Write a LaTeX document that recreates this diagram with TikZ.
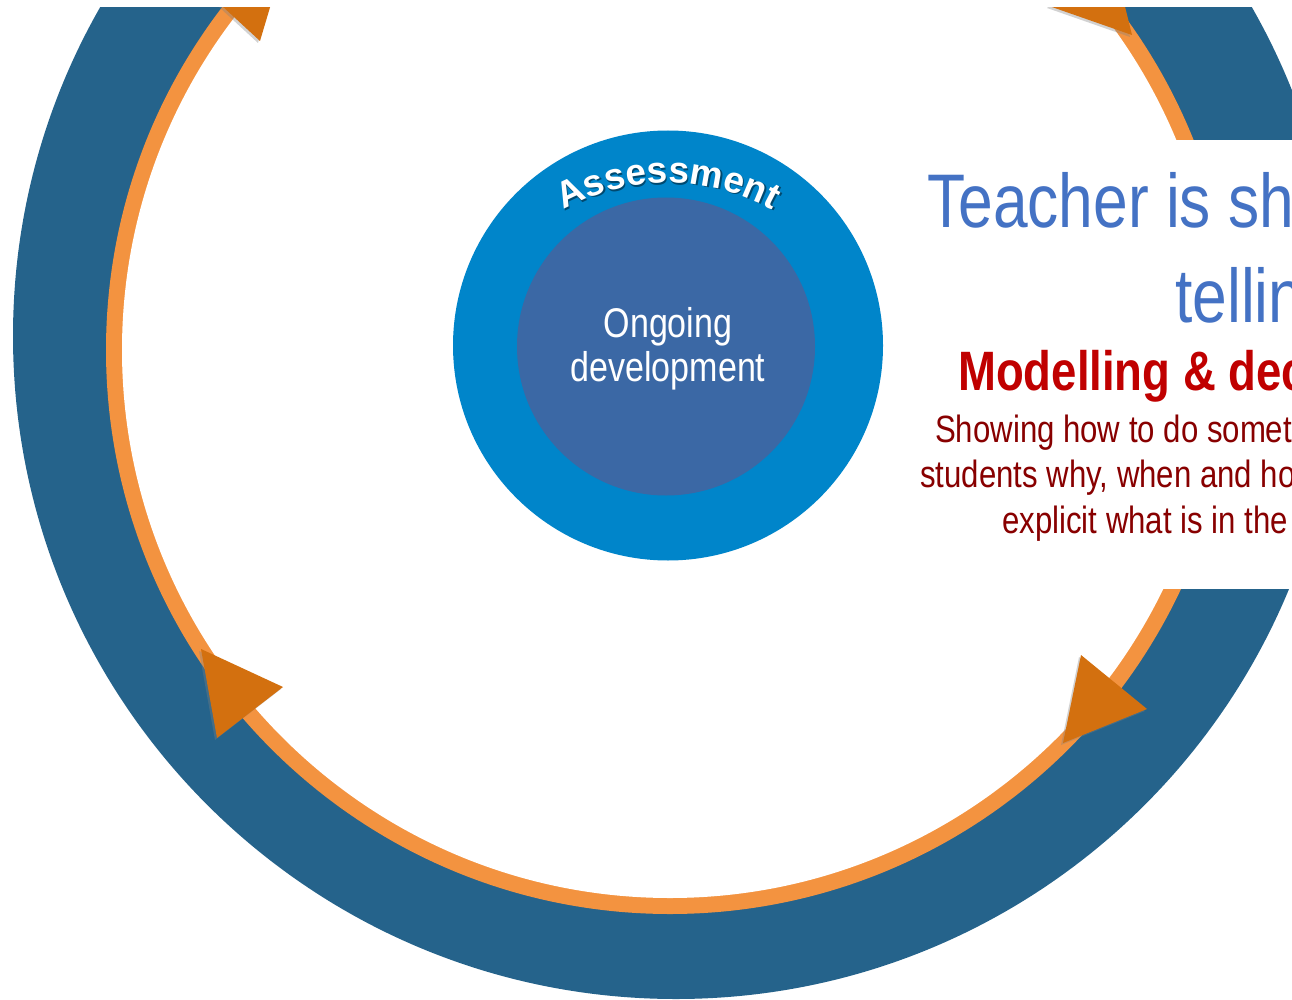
\documentclass[tikz,border=0pt]{standalone}
\usepackage{fontspec}
\setmainfont{Liberation Sans}[FakeStretch=0.82]
\newfontfamily\archfont{Liberation Sans}
\usetikzlibrary{decorations.text,shadows}

\definecolor{ringblue}{HTML}{25638B}
\definecolor{ringorange}{HTML}{F39340}
\definecolor{arroworange}{HTML}{D3700F}
\definecolor{assessblue}{HTML}{0085CA}
\definecolor{devblue}{HTML}{3B68A5}
\definecolor{teachblue}{HTML}{4472C4}
\definecolor{modelred}{HTML}{C00000}
\definecolor{showred}{HTML}{880000}

\newcommand\archstyle{\archfont\bfseries\fontsize{37}{40}\selectfont}

\begin{document}
\begin{tikzpicture}[x=1pt,y=1pt,
    arrowhead/.style={fill=arroworange,
      drop shadow={opacity=.35,shadow xshift=-2pt,shadow yshift=-2pt}},
    textline/.style={anchor=base west,inner sep=0}]
  \clip (0,0) rectangle (1292,-1000);
  % big ring with the orange track
  \fill[ringblue] (676,-336) circle (663);
  \fill[ringorange] (670,-350) circle (564);
  \fill[white] (670,-350) circle (548);
  % arrow heads on the track
  \fill[arrowhead] (195,19) -- (260,-41) -- (285,43) -- cycle;
  \fill[arrowhead] (1049,-6) -- (1132,-35) -- (1111,50) -- cycle;
  \fill[arrowhead] (201,-649) -- (283,-687) -- (217,-738) -- cycle;
  \fill[arrowhead] (1081,-655) -- (1147,-709) -- (1063,-743) -- cycle;
  % text box on the right
  \fill[white] (905,-140) rectangle (1292,-589);
  \node[textline,text=teachblue,font=\fontsize{76}{90}\selectfont]
    (teach) at (927,-228) {Teacher is sh};
  \node[textline,text=teachblue,font=\fontsize{76}{90}\selectfont]
    (tell) at (1175,-322) {tellin};
  \node[textline,text=modelred,font=\bfseries\fontsize{55.5}{60}\selectfont]
    (model) at (958,-390) {Modelling \& dec};
  \node[textline,text=showred,font=\fontsize{38}{45}\selectfont]
    (show1) at (935,-442) {Showing how to do somet};
  \node[textline,text=showred,font=\fontsize{38}{45}\selectfont]
    (show2) at (920,-487) {students why, when and ho};
  \node[textline,text=showred,font=\fontsize{38}{45}\selectfont]
    (show3) at (1002,-533) {explicit what is in the};
  % centre circles
  \fill[assessblue] (668,-345.5) circle (215);
  \fill[devblue] (666,-346.5) circle (149);
  \path[decorate,decoration={text along path,text align=center,
      text color=assessblue!55!black,text={|\archstyle|Assessment}}]
    (669.5,-399.5) ++(125:215) arc (125:55:215);
  \path[decorate,decoration={text along path,text align=center,
      text color=white,text={|\archstyle|Assessment}}]
    (668,-398) ++(125:215) arc (125:55:215);
  \node[anchor=base,inner sep=0,text=white,font=\fontsize{41.5}{48}\selectfont]
    (ongoing) at (668,-337) {Ongoing};
  \node[anchor=base,inner sep=0,text=white,font=\fontsize{41.5}{48}\selectfont]
    (devt) at (668,-381) {development};
  \fill[white] (0,0) rectangle (1292,-7);
\end{tikzpicture}
\end{document}
